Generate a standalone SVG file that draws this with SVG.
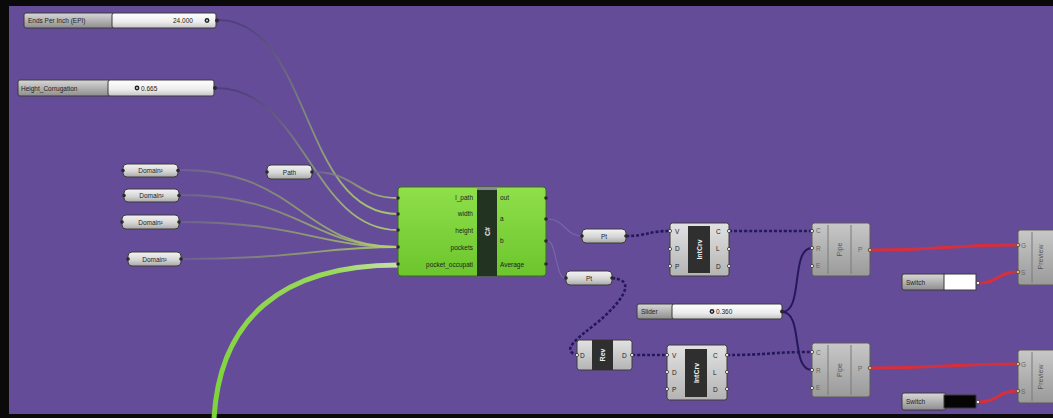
<svg xmlns="http://www.w3.org/2000/svg" width="1053" height="418" viewBox="0 0 1053 418">
  <defs>
    <linearGradient id="gCap" x1="0" y1="0" x2="0" y2="1">
      <stop offset="0" stop-color="#f4f4f4"/>
      <stop offset="0.55" stop-color="#d6d6d6"/>
      <stop offset="1" stop-color="#a9a9a9"/>
    </linearGradient>
    <linearGradient id="gLab" x1="0" y1="0" x2="0" y2="1">
      <stop offset="0" stop-color="#d8d8d8"/>
      <stop offset="1" stop-color="#8e8e8e"/>
    </linearGradient>
    <linearGradient id="gBody" x1="0" y1="0" x2="0" y2="1">
      <stop offset="0" stop-color="#ffffff"/>
      <stop offset="0.6" stop-color="#ececec"/>
      <stop offset="1" stop-color="#c4c4c4"/>
    </linearGradient>
    <linearGradient id="gComp" x1="0" y1="0" x2="0" y2="1">
      <stop offset="0" stop-color="#e2e2e2"/>
      <stop offset="1" stop-color="#b4b4b4"/>
    </linearGradient>
    <linearGradient id="gGrey" x1="0" y1="0" x2="0" y2="1">
      <stop offset="0" stop-color="#c8c8c8"/>
      <stop offset="1" stop-color="#9a9a9a"/>
    </linearGradient>
    <linearGradient id="gGreen" x1="0" y1="0" x2="0" y2="1">
      <stop offset="0" stop-color="#8fe04a"/>
      <stop offset="1" stop-color="#6cc52c"/>
    </linearGradient>
    <linearGradient id="gWire" x1="0" y1="0" x2="1" y2="0">
      <stop offset="0" stop-color="#6e6290"/>
      <stop offset="0.5" stop-color="#8f9d6e"/>
      <stop offset="1" stop-color="#b4d86a"/>
    </linearGradient>
    <linearGradient id="gWireV" x1="0" y1="0" x2="0" y2="1">
      <stop offset="0" stop-color="#4a3d78"/>
      <stop offset="0.45" stop-color="#7f8f78"/>
      <stop offset="1" stop-color="#b4d86a"/>
    </linearGradient>
    <linearGradient id="gThick" x1="0" y1="1" x2="1" y2="0">
      <stop offset="0" stop-color="#7cd43a"/>
      <stop offset="0.8" stop-color="#9ad85a"/>
      <stop offset="1" stop-color="#c8e0a8"/>
    </linearGradient>
    <style>
      text { font-family: "Liberation Sans", Arial, sans-serif; font-size: 6.5px; fill: #222; }
      .cap { fill: url(#gCap); stroke: #3a3a3a; stroke-width: 1; }
      .lab { fill: url(#gLab); stroke: #3a3a3a; stroke-width: 1; }
      .body { fill: url(#gBody); stroke: #3a3a3a; stroke-width: 1; }
      .comp { fill: url(#gComp); stroke: #3a3a3a; stroke-width: 1; }
      .grey { fill: url(#gGrey); stroke: #5a5a5a; stroke-width: 1; }
      .strip { fill: #2f2f2f; }
      .stripT { fill: #f0f0f0; font-weight: bold; font-size: 7px; }
      .grip { fill: #2a2a2a; }
      .gripL { fill: #f2f2f2; stroke: #333; stroke-width: 0.8; }
      .gripO { fill: #f0b070; stroke: #444; stroke-width: 0.8; }
      .wire { fill: none; stroke: url(#gWire); stroke-width: 1.8; opacity: 0.85; }
      .wireV { fill: none; stroke: url(#gWireV); stroke-width: 1.8; opacity: 0.85; }
      .list { fill: none; stroke: #25185a; stroke-width: 2.6; stroke-dasharray: 3 2; }
      .item { fill: none; stroke: #25185a; stroke-width: 2; }
      .red { fill: none; stroke: #d4303e; stroke-width: 3; }
      .faint { fill: none; stroke: #8a7fb0; stroke-width: 1.2; opacity: 0.5; }
    </style>
  </defs>

  <!-- canvas -->
  <rect width="1053" height="418" fill="#654c98"/>
  <rect x="0" y="0" width="1053" height="6" fill="#0a0a0a"/>
  <rect x="0" y="0" width="9" height="418" fill="#0a0a0a"/>
  <rect x="0" y="414" width="1053" height="4" fill="#0a0a0a"/>

  <!-- connectors -->
  <g id="connectors">
    <path class="wireV" d="M218,20 C312,20 300,214 398,214"/>
    <path class="wireV" d="M216,88 C304,88 312,230 398,230"/>
    <path class="wire" d="M313,172 C356,172 356,198 398,198"/>
    <path class="wire" d="M179,170 C300,170 300,247 398,247"/>
    <path class="wire" d="M179,195 C300,195 310,247 398,247"/>
    <path class="wire" d="M179,222 C300,222 320,247 398,247"/>
    <path class="wire" d="M181,259 C300,259 320,247 398,247"/>
    <path fill="none" stroke="url(#gThick)" stroke-width="5" d="M214,418 C220,320 280,265 398,265"/>
    <path class="faint" d="M548,219 C565,219 565,236 582,236"/>
    <path class="faint" d="M548,241 C556,241 556,278 565,278"/>
    <path class="list" d="M626,236 C648,236 648,231 670,231"/>
    <path class="list" d="M729,231 C770,231 770,231 812,231"/>
    <path class="list" d="M612,278 C640,280 618,305 598,322 C578,338 560,350 577,355"/>
    <path class="list" d="M632,355 C650,355 650,355 667,355"/>
    <path class="list" d="M727,355 C770,355 770,352 812,352"/>
    <path class="item" d="M782,312 C804,312 790,248 812,248"/>
    <path class="item" d="M782,312 C804,312 790,370 812,370"/>
    <path class="red" d="M871,250 C945,250 945,245 1018,245"/>
    <path class="red" d="M978,283 C1000,283 996,272 1018,272"/>
    <path class="red" d="M871,368 C945,368 945,364 1018,364"/>
    <path class="red" d="M978,402 C1000,402 996,391 1018,391"/>
  </g>

  <!-- number sliders -->
  <g id="slider-epi">
    <rect class="lab" x="24" y="13" width="90" height="15" rx="2"/>
    <rect class="body" x="112" y="13" width="104" height="15" rx="2"/>
    <text x="28" y="23">Ends Per Inch (EPI)</text>
    <text x="173" y="23">24.000</text>
    <circle cx="207" cy="20.5" r="2.4" fill="#222"/>
    <circle cx="207" cy="20.5" r="0.9" fill="#eee"/>
    <circle class="grip" cx="217" cy="20.5" r="2"/>
  </g>
  <g id="slider-height">
    <rect class="lab" x="18" y="80" width="92" height="16" rx="2"/>
    <rect class="body" x="108" y="80" width="106" height="16" rx="2"/>
    <text x="21" y="90.5">Height_Corrugation</text>
    <circle cx="137" cy="88" r="2.4" fill="#222"/>
    <circle cx="137" cy="88" r="0.9" fill="#eee"/>
    <text x="141" y="90.5">0.665</text>
    <circle class="grip" cx="215" cy="88" r="2"/>
  </g>
  <g id="slider-radius">
    <rect class="lab" x="637" y="304" width="37" height="15" rx="2"/>
    <rect class="body" x="672" y="304" width="110" height="15" rx="2"/>
    <text x="641" y="314">Slider</text>
    <circle cx="712" cy="311.5" r="2.4" fill="#222"/>
    <circle cx="712" cy="311.5" r="0.9" fill="#eee"/>
    <text x="716" y="314">0.360</text>
    <circle class="grip" cx="782" cy="311.5" r="2"/>
  </g>

  <!-- parameter capsules -->
  <g id="domain-1">
    <rect class="cap" x="123" y="164" width="55" height="13" rx="4"/>
    <circle class="grip" cx="123" cy="170.5" r="1.8"/><circle class="grip" cx="178" cy="170.5" r="1.8"/>
    <text x="150.5" y="173" text-anchor="middle">Domain²</text>
  </g>
  <g id="domain-2">
    <rect class="cap" x="124" y="189" width="55" height="13" rx="4"/>
    <circle class="grip" cx="124" cy="195.5" r="1.8"/><circle class="grip" cx="179" cy="195.5" r="1.8"/>
    <text x="151.5" y="198" text-anchor="middle">Domain²</text>
  </g>
  <g id="domain-3">
    <rect class="cap" x="122" y="215" width="57" height="14" rx="4"/>
    <circle class="grip" cx="122" cy="222" r="1.8"/><circle class="grip" cx="179" cy="222" r="1.8"/>
    <text x="150.5" y="224.5" text-anchor="middle">Domain²</text>
  </g>
  <g id="domain-4">
    <rect class="cap" x="128" y="252" width="53" height="14" rx="4"/>
    <circle class="grip" cx="128" cy="259" r="1.8"/><circle class="grip" cx="181" cy="259" r="1.8"/>
    <text x="154.5" y="261.5" text-anchor="middle">Domain²</text>
  </g>
  <g id="path-param">
    <rect class="cap" x="267" y="165" width="45" height="14" rx="4"/>
    <circle class="grip" cx="267" cy="172" r="1.8"/><circle class="grip" cx="312" cy="172" r="1.8"/>
    <text x="289.5" y="174.5" text-anchor="middle">Path</text>
  </g>

  <!-- C# script component -->
  <g id="csharp">
    <rect x="398" y="187" width="148" height="89" rx="3" fill="url(#gGreen)" stroke="#3c6a1c" stroke-width="1"/>
    <rect x="477" y="187" width="20" height="89" fill="#233322"/>
    <rect x="477" y="187" width="20" height="3" fill="#8a8a8a"/>
    <text class="stripT" transform="translate(490,231.5) rotate(-90)" text-anchor="middle">C#</text>
    <g text-anchor="end">
      <text x="473" y="200">l_path</text>
      <text x="473" y="216">width</text>
      <text x="473" y="232.5">height</text>
      <text x="473" y="249.5">pockets</text>
      <text x="473" y="266.5">pocket_occupati</text>
    </g>
    <text x="500" y="200">out</text>
    <text x="500" y="221">a</text>
    <text x="500" y="243">b</text>
    <text x="500" y="266.5">Average</text>
    <g class="grip">
      <circle cx="398" cy="198" r="1.8"/><circle cx="398" cy="214" r="1.8"/><circle cx="398" cy="230" r="1.8"/>
      <circle cx="398" cy="247" r="1.8"/><circle cx="398" cy="264" r="1.8"/>
      <circle cx="546" cy="198" r="1.8"/><circle cx="546" cy="219" r="1.8"/><circle cx="546" cy="241" r="1.8"/><circle cx="546" cy="264" r="1.8"/>
    </g>
  </g>

  <!-- point parameters -->
  <g id="pt-1">
    <rect class="cap" x="582" y="229" width="44" height="14" rx="4"/>
    <circle class="grip" cx="582" cy="236" r="1.8"/><circle class="grip" cx="626" cy="236" r="1.8"/>
    <text x="604" y="238.5" text-anchor="middle">Pt</text>
  </g>
  <g id="pt-2">
    <rect class="cap" x="566" y="271" width="46" height="14" rx="4"/>
    <circle class="grip" cx="566" cy="278" r="1.8"/><circle class="grip" cx="612" cy="278" r="1.8"/>
    <text x="589" y="280.5" text-anchor="middle">Pt</text>
  </g>

  <!-- reverse list -->
  <g id="reverse">
    <rect class="comp" x="577" y="340" width="55" height="30" rx="2.5"/>
    <rect class="strip" x="592" y="340" width="21" height="30"/>
    <text class="stripT" transform="translate(605,355) rotate(-90)" text-anchor="middle">Rev</text>
    <text x="580" y="357.5">D</text>
    <text x="622" y="357.5">D</text>
    <circle class="gripL" cx="577" cy="355" r="1.6"/><circle class="gripL" cx="632" cy="355" r="1.6"/>
  </g>

  <!-- interpolated curves -->
  <g id="intcrv-1">
    <rect class="comp" x="670" y="223" width="59" height="53" rx="2.5"/>
    <rect class="strip" x="688" y="226" width="22" height="47"/>
    <text class="stripT" transform="translate(702,249.5) rotate(-90)" text-anchor="middle">IntCrv</text>
    <text x="675" y="233.5">V</text><text x="675" y="251">D</text><text x="675" y="268.5">P</text>
    <text x="716" y="233.5">C</text><text x="716" y="251">L</text><text x="716" y="268.5">D</text>
    <g class="gripL">
      <circle cx="670" cy="231" r="1.6"/><circle cx="670" cy="249" r="1.6"/><circle cx="670" cy="266" r="1.6"/>
      <circle cx="729" cy="231" r="1.6"/><circle cx="729" cy="249" r="1.6"/><circle cx="729" cy="266" r="1.6"/>
    </g>
  </g>
  <g id="intcrv-2">
    <rect class="comp" x="667" y="345" width="60" height="55" rx="2.5"/>
    <rect class="strip" x="685" y="349" width="22" height="48"/>
    <text class="stripT" transform="translate(699,373) rotate(-90)" text-anchor="middle">IntCrv</text>
    <text x="672" y="357.5">V</text><text x="672" y="374.5">D</text><text x="672" y="391.5">P</text>
    <text x="713" y="357.5">C</text><text x="713" y="374.5">L</text><text x="713" y="391.5">D</text>
    <g class="gripL">
      <circle cx="667" cy="355" r="1.6"/><circle cx="667" cy="372" r="1.6"/><circle cx="667" cy="389" r="1.6"/>
      <circle cx="727" cy="355" r="1.6"/><circle cx="727" cy="372" r="1.6"/><circle cx="727" cy="389" r="1.6"/>
    </g>
  </g>

  <!-- pipes -->
  <g id="pipe-1">
    <rect class="grey" x="812" y="223" width="58" height="53" rx="2.5"/>
    <line x1="828" y1="225" x2="828" y2="274" stroke="#7a7a7a"/>
    <line x1="851" y1="225" x2="851" y2="274" stroke="#7a7a7a"/>
    <text transform="translate(842,249.5) rotate(-90)" text-anchor="middle" style="font-size:7px;fill:#555">Pipe</text>
    <text x="816" y="233" style="fill:#666">C</text><text x="816" y="250.5" style="fill:#666">R</text><text x="816" y="268" style="fill:#666">E</text>
    <text x="858" y="252" style="fill:#666">P</text>
    <g class="gripL">
      <circle cx="812" cy="231" r="1.6"/><circle cx="812" cy="248" r="1.6"/><circle cx="812" cy="266" r="1.6"/>
    </g>
    <circle class="gripO" cx="870" cy="250" r="1.8"/>
  </g>
  <g id="pipe-2">
    <rect class="grey" x="812" y="343" width="58" height="54" rx="2.5"/>
    <line x1="828" y1="345" x2="828" y2="395" stroke="#7a7a7a"/>
    <line x1="851" y1="345" x2="851" y2="395" stroke="#7a7a7a"/>
    <text transform="translate(842,370) rotate(-90)" text-anchor="middle" style="font-size:7px;fill:#555">Pipe</text>
    <text x="816" y="354.5" style="fill:#666">C</text><text x="816" y="372.5" style="fill:#666">R</text><text x="816" y="390" style="fill:#666">E</text>
    <text x="858" y="370.5" style="fill:#666">P</text>
    <g class="gripL">
      <circle cx="812" cy="352" r="1.6"/><circle cx="812" cy="370" r="1.6"/><circle cx="812" cy="388" r="1.6"/>
    </g>
    <circle class="gripO" cx="870" cy="368" r="1.8"/>
  </g>

  <!-- boolean toggles -->
  <g id="toggle-1">
    <rect class="lab" x="902" y="274" width="44" height="16" rx="2"/>
    <rect x="944" y="274" width="32" height="16" fill="#ffffff" stroke="#3a3a3a"/>
    <text x="906" y="284.5">Switch</text>
    <circle class="gripL" cx="978" cy="283" r="1.8"/>
  </g>
  <g id="toggle-2">
    <rect class="lab" x="902" y="393" width="44" height="17" rx="2"/>
    <rect x="944" y="395" width="32" height="13" fill="#050505" stroke="#3a3a3a"/>
    <text x="906" y="404">Switch</text>
    <circle class="gripL" cx="978" cy="402" r="1.8"/>
  </g>

  <!-- custom preview -->
  <g id="preview-1">
    <rect class="grey" x="1018" y="230" width="45" height="55" rx="2.5"/>
    <line x1="1032" y1="232" x2="1032" y2="283" stroke="#7a7a7a"/>
    <text transform="translate(1043,257) rotate(-90)" text-anchor="middle" style="font-size:7px;fill:#555">Preview</text>
    <text x="1021" y="247.5" style="fill:#666">G</text><text x="1021" y="274.5" style="fill:#666">S</text>
    <circle class="gripO" cx="1018" cy="245" r="1.8"/><circle class="gripO" cx="1018" cy="272" r="1.8"/>
  </g>
  <g id="preview-2">
    <rect class="grey" x="1018" y="350" width="45" height="53" rx="2.5"/>
    <line x1="1032" y1="352" x2="1032" y2="401" stroke="#7a7a7a"/>
    <text transform="translate(1043,377) rotate(-90)" text-anchor="middle" style="font-size:7px;fill:#555">Preview</text>
    <text x="1021" y="366.5" style="fill:#666">G</text><text x="1021" y="393.5" style="fill:#666">S</text>
    <circle class="gripO" cx="1018" cy="364" r="1.8"/><circle class="gripO" cx="1018" cy="391" r="1.8"/>
  </g>
</svg>
